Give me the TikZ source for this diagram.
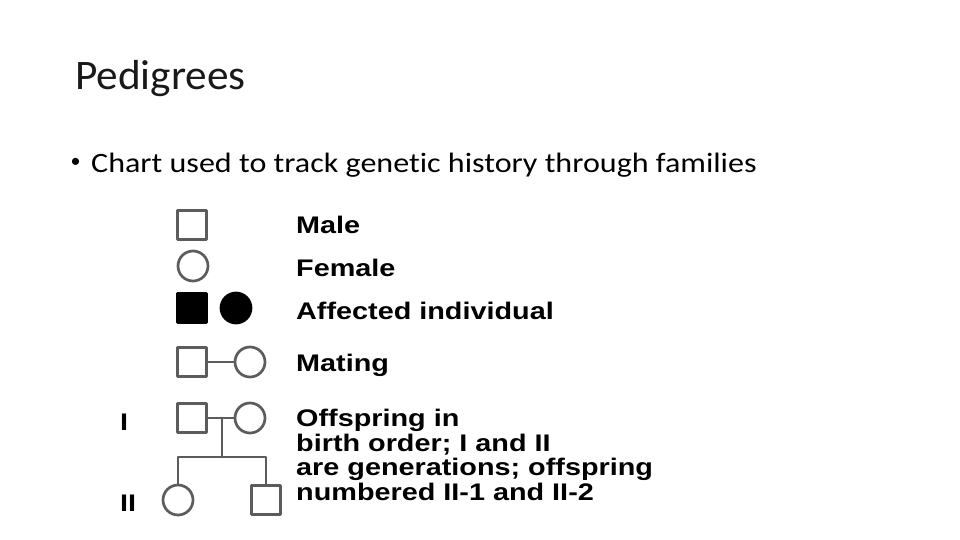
\documentclass[tikz,border=0pt]{standalone}
\usepackage{fontspec}
\setmainfont{Carlito}
\newfontfamily\slidefont[FakeStretch=1.145,Ligatures=NoCommon]{Carlito}
\newfontfamily\titlefont[FakeStretch=1.03]{Carlito}
\newfontfamily\legendfont[FakeStretch=1.2]{Liberation Sans}
\definecolor{pedline}{gray}{0.36}
\tikzset{
  male/.style={draw=pedline,line width=2.7pt,minimum size=29pt,inner sep=0pt},
  female/.style={male,circle,minimum size=30pt},
  legend/.style={anchor=base west,inner sep=0pt,font=\legendfont\bfseries\fontsize{24}{24.5}\selectfont,align=left}
}
\begin{document}
\begin{tikzpicture}[x=1pt,y=-1pt,line join=round,line cap=round]
  \useasboundingbox (0,0) rectangle (960,540);
  \node[anchor=base west,inner sep=0pt,font=\titlefont\fontsize{42}{50}\selectfont,text=black!90] (title) at (75,90) {Pedigrees};
  \node[inner sep=0pt] (bullet) at (75.5,163) {\fontsize{20}{20}\selectfont\textbullet};
  \node[anchor=base west,inner sep=0pt,font=\slidefont\fontsize{28}{34}\selectfont] (bullettext) at (91,173) {Chart used to track genetic history through families};
  % symbols
  \node[male] (male) at (192,225) {};
  \node[female] (female) at (193,266) {};
  \node[male,fill=black,draw=black] (amale) at (192,308) {};
  \node[female,fill=black,draw=black] (afemale) at (236,308) {};
  % mating
  \node[male] (mm) at (192,362) {};
  \node[female] (mf) at (250,362) {};
  \draw[pedline,line width=2.7pt] (mm) -- (mf);
  % offspring
  \node[male] (pm) at (192,418) {};
  \node[female] (pf) at (250,418) {};
  \node[female] (c1) at (178,500) {};
  \node[male] (c2) at (266,500) {};
  \draw[pedline,line width=2.7pt] (pm) -- (pf);
  \coordinate (mid) at (222,418);
  \coordinate (sib) at (222,457);
  \draw[pedline,line width=2.7pt] (mid) -- (sib) (c1.north) |- (sib) -| (c2.north);
  \node[legend,font=\legendfont\bfseries\fontsize{24}{24}\selectfont] (g1) at (120,430) {I};
  \node[legend,font=\legendfont\bfseries\fontsize{24}{24}\selectfont] (g2) at (120,511) {II};
  % texts
  \node[legend] (tmale) at (296,233) {Male};
  \node[legend] (tfemale) at (296,276) {Female};
  \node[legend] (taff) at (296,319) {Affected individual};
  \node[legend] (tmat) at (296,371) {Mating};
  \node[legend,anchor=north west] (toff) at (296,409) {Offspring in\\birth order; I and II\\are generations; offspring\\numbered II-1 and II-2};
\end{tikzpicture}
\end{document}
